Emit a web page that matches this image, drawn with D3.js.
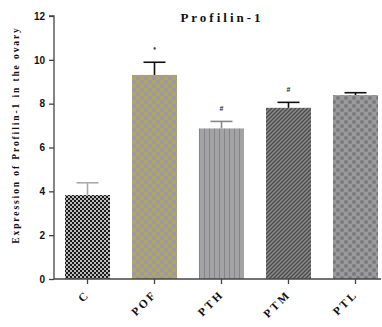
<!DOCTYPE html>
<html><head><meta charset="utf-8">
<script src="https://cdn.jsdelivr.net/npm/d3@7"></script>
<style>body{margin:0;background:#fff}</style>
</head><body>
<svg id="c" width="382" height="327"></svg>
<script>
const categories = ["C", "POF", "PTH", "PTM", "PTL"];
const means = [3.83, 9.31, 6.87, 7.81, 8.39];
const errors = [0.56, 0.58, 0.32, 0.25, 0.11];
const marks = ["", "*", "#", "#", ""];
const yTicks = [0, 2, 4, 6, 8, 10, 12];
const errColors = ["#aaa", "#111", "#888", "#111", "#111"];

const svg = d3.select("#c");
const defs = svg.append("defs");
let p = defs.append("pattern").attr("id","p0").attr("width",4).attr("height",4).attr("patternUnits","userSpaceOnUse");
p.append("rect").attr("width",4).attr("height",4).attr("fill","#1a1a1a");
p.append("rect").attr("width",2).attr("height",2).attr("fill","#bbb");
p.append("rect").attr("x",2).attr("y",2).attr("width",2).attr("height",2).attr("fill","#bbb");
p = defs.append("pattern").attr("id","p1").attr("width",8).attr("height",8).attr("patternUnits","userSpaceOnUse");
p.append("rect").attr("width",8).attr("height",8).attr("fill","#9c9a9a");
p.append("rect").attr("width",4).attr("height",4).attr("fill","#b0a46a");
p.append("rect").attr("x",4).attr("y",4).attr("width",4).attr("height",4).attr("fill","#b0a46a");
p = defs.append("pattern").attr("id","p2").attr("width",5).attr("height",5).attr("patternUnits","userSpaceOnUse");
p.append("rect").attr("width",5).attr("height",5).attr("fill","#a3a3a5");
p.append("rect").attr("x",4).attr("width",1).attr("height",5).attr("fill","#858587");
p = defs.append("pattern").attr("id","p3").attr("width",4).attr("height",4).attr("patternUnits","userSpaceOnUse");
p.append("rect").attr("width",4).attr("height",4).attr("fill","#8a8a8a");
p.append("path").attr("d","M-1,1 L1,-1 M0,4 L4,0 M3,5 L5,3").attr("stroke","#4a4a4a").attr("stroke-width",1.3);
p = defs.append("pattern").attr("id","p4").attr("width",8).attr("height",8).attr("patternUnits","userSpaceOnUse");
p.append("rect").attr("width",8).attr("height",8).attr("fill","#9a9a9c");
p.append("circle").attr("cx",2).attr("cy",2).attr("r",2).attr("fill","#7a7a7c");
p.append("circle").attr("cx",6).attr("cy",6).attr("r",2).attr("fill","#7a7a7c");

const x0 = 54, yBase = 279;
const x = d3.scaleBand().domain(categories).range([x0, x0 + 335]).paddingInner(0.328).paddingOuter(0.164);
const y = d3.scaleLinear().domain([0, 12]).range([yBase, 16]);

const ya = svg.append("g").attr("transform", `translate(${x0},0)`)
  .call(d3.axisLeft(y).tickValues(yTicks).tickSize(5).tickPadding(4).tickFormat(d3.format("d")));
ya.select(".domain").attr("stroke","#444").attr("stroke-width",1.3).attr("d",`M-5,${y(12)}H0V${yBase}`);
ya.selectAll(".tick line").attr("stroke","#444").attr("stroke-width",1.3);
ya.selectAll("text").attr("font-family","Liberation Sans, Arial, sans-serif").attr("font-weight","bold").attr("font-size",10).attr("fill","#111");

svg.selectAll(".bar").data(categories).enter().append("rect")
  .attr("x", d => x(d)).attr("width", x.bandwidth())
  .attr("y", (d,i) => y(means[i])).attr("height", (d,i) => yBase - y(means[i]))
  .attr("fill", (d,i) => `url(#p${i})`);

const capW = 22;
categories.forEach((c,i) => {
  const cx = x(c) + x.bandwidth()/2;
  const g = svg.append("g").attr("stroke", errColors[i]).attr("stroke-width",1.6);
  g.append("line").attr("x1",cx).attr("x2",cx).attr("y1",y(means[i])).attr("y2",y(means[i]+errors[i]));
  g.append("line").attr("x1",cx-capW/2).attr("x2",cx+capW/2).attr("y1",y(means[i]+errors[i])).attr("y2",y(means[i]+errors[i]));
  if (marks[i]) svg.append("text").attr("x",cx).attr("y",y(means[i]+errors[i]) - 10)
    .attr("text-anchor","middle").attr("font-family","Liberation Sans, Arial, sans-serif")
    .attr("font-weight","bold").attr("font-size",7).attr("fill","#222").text(marks[i]);
});

const xa = svg.append("g").attr("transform", `translate(0,${yBase})`)
  .call(d3.axisBottom(x).tickSize(5).tickFormat(""));
xa.select(".domain").attr("stroke","#444").attr("stroke-width",1.3).attr("d",`M${x0},0H381`);
xa.selectAll(".tick line").attr("stroke","#444").attr("stroke-width",1.3);

svg.selectAll(".xlab").data(categories).enter().append("text")
  .attr("class","xlab")
  .attr("font-family","Liberation Serif, Times New Roman, serif").attr("font-weight","bold")
  .attr("font-size",11.5).attr("letter-spacing","2.5px").attr("fill","#111")
  .attr("text-anchor","end")
  .attr("transform", d => `translate(${x(d) + x.bandwidth()/2 + 3},${yBase + 16}) rotate(-45)`)
  .text(d => d);

svg.append("text").attr("x",222).attr("y",22).attr("text-anchor","middle")
  .attr("font-family","Liberation Serif, Times New Roman, serif").attr("font-weight","bold")
  .attr("font-size",13).attr("letter-spacing","3px").attr("fill","#111").text("Profilin-1");

svg.append("text").attr("transform","translate(19,135) rotate(-90)").attr("text-anchor","middle")
  .attr("font-family","Liberation Serif, Times New Roman, serif").attr("font-weight","bold")
  .attr("font-size",9.5).attr("letter-spacing","1.9px").attr("fill","#111").text("Expression of Profilin-1 in the ovary");
</script>
</body></html>
